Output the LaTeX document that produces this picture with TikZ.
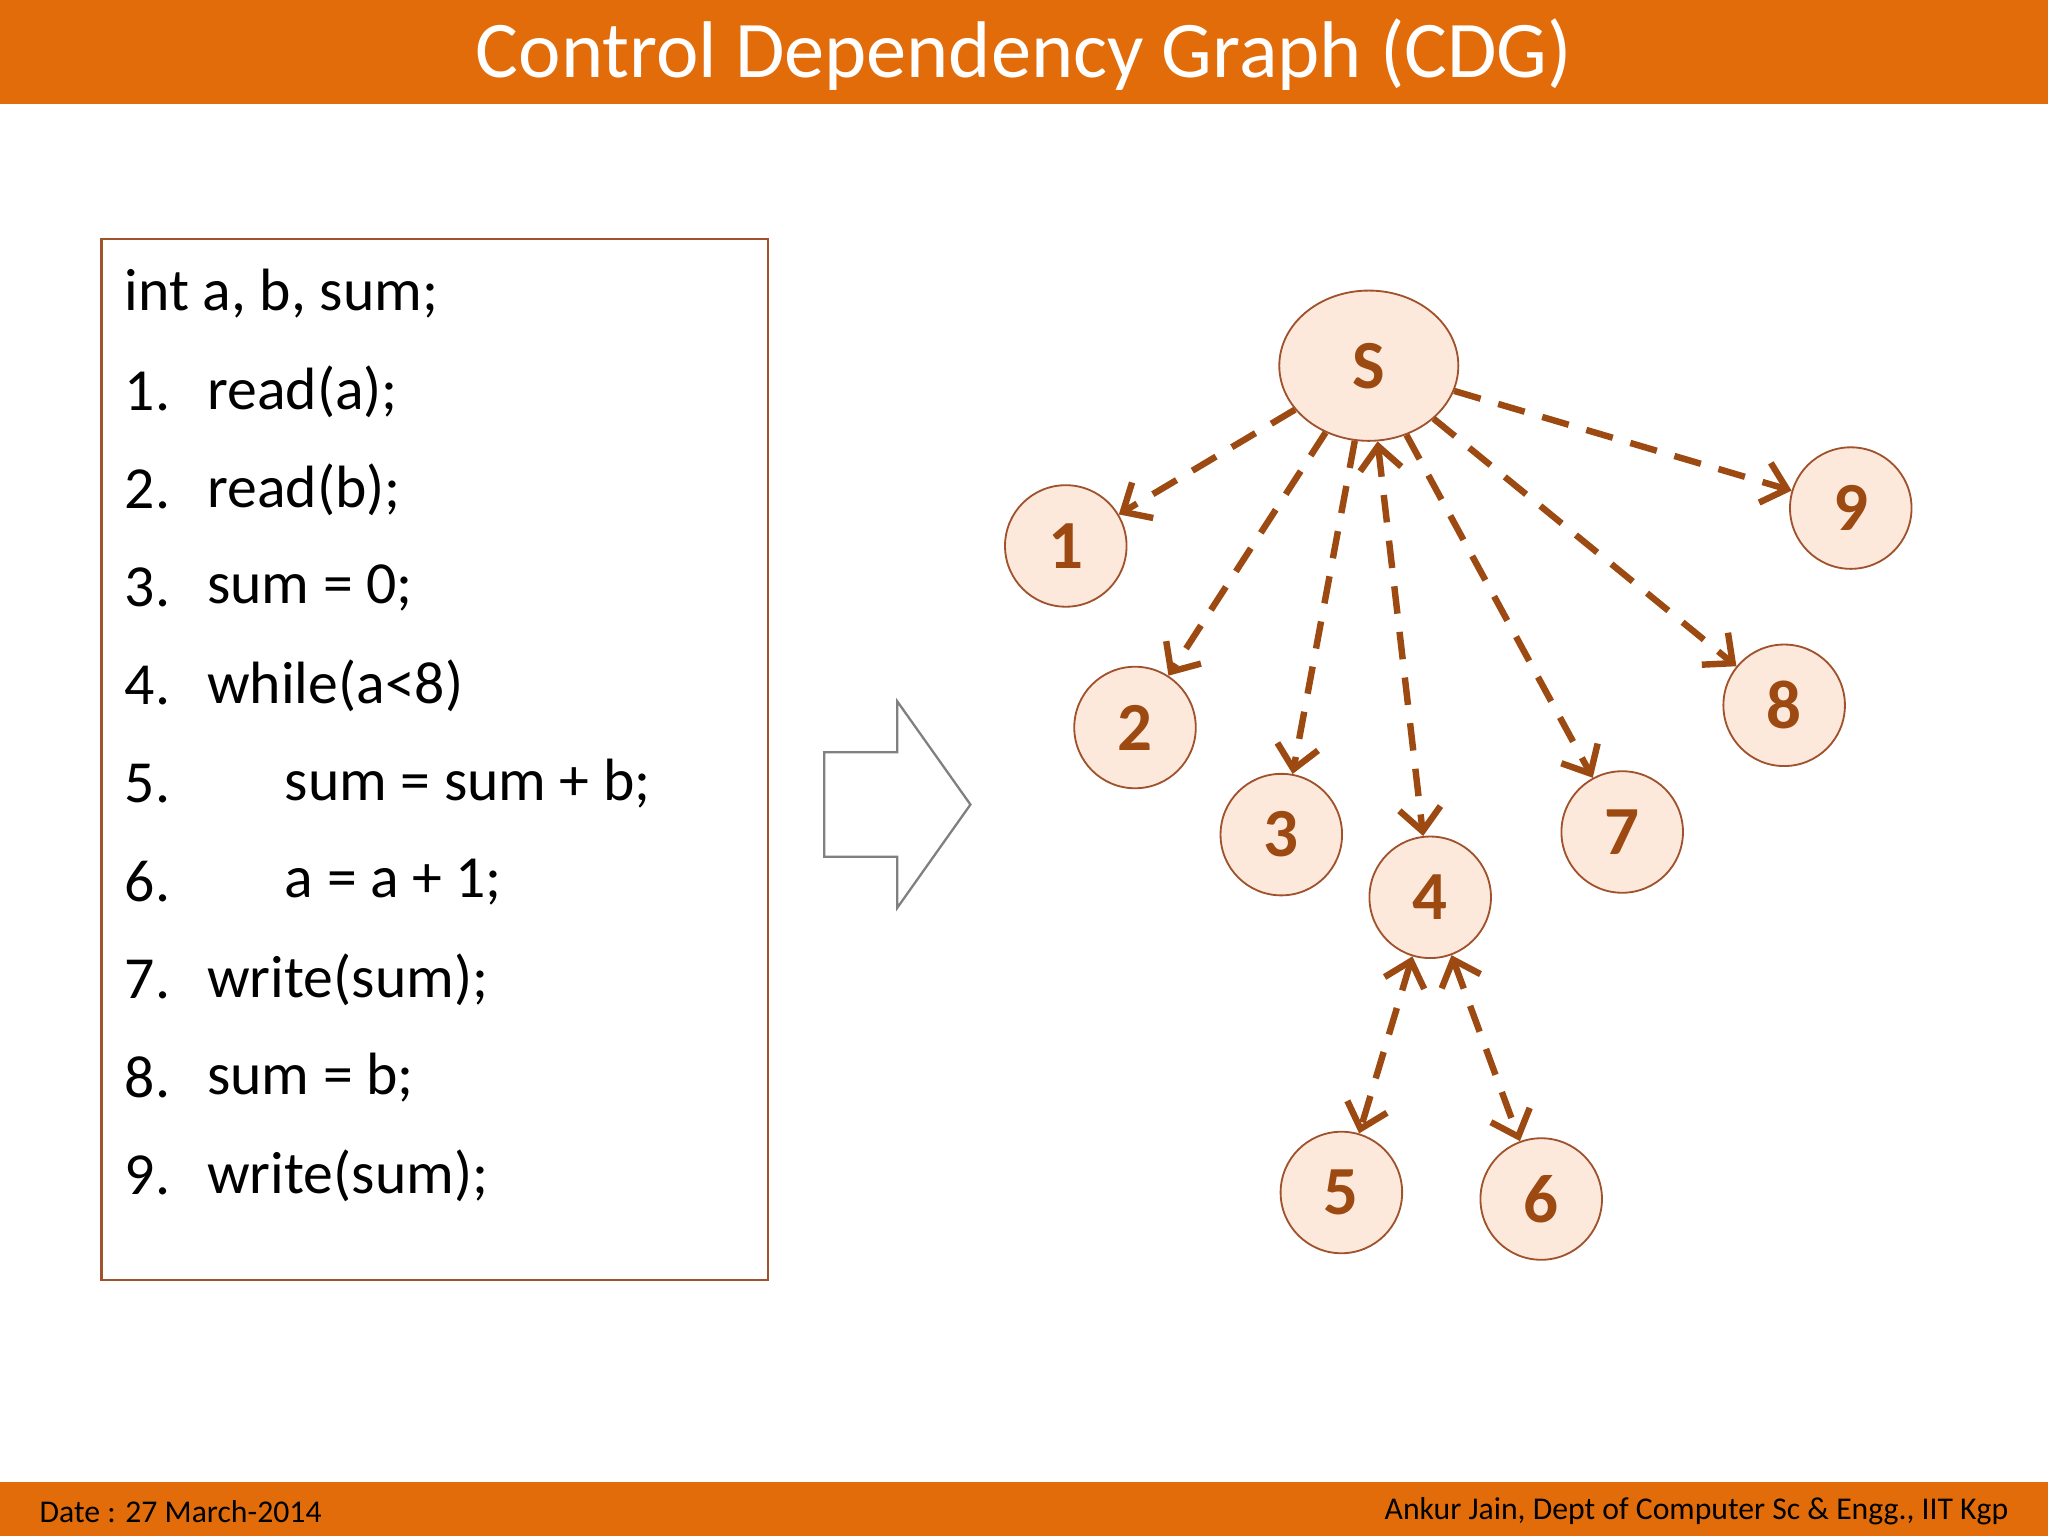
\documentclass[tikz,border=0pt]{standalone}
\usepackage{fontspec}
\setmainfont{Carlito}
\usetikzlibrary{arrows.meta,shapes.geometric}
\definecolor{orng}{HTML}{E36C0A}
\definecolor{brn}{HTML}{9C4A12}
\definecolor{pch}{HTML}{FDE9DC}
\definecolor{bord}{HTML}{A0522D}
\tikzset{
 cn/.style={circle,draw=bord,fill=pch,minimum size=0.93cm,inner sep=0pt,font=\bfseries\fontsize{15}{15}\selectfont,text=brn},
 ed/.style={draw=brn,dashed,line width=1.4pt,dash pattern=on 6pt off 4pt,-{Straight Barb[length=5pt,width=9pt]}},
 bd/.style={ed,{Straight Barb[length=5pt,width=9pt]}-{Straight Barb[length=5pt,width=9pt]}},
 code/.style={anchor=west,font=\fontsize{13}{13}\selectfont,inner sep=0pt}
}
\begin{document}
\begin{tikzpicture}[x=0.01cm,y=-0.01cm]
\useasboundingbox (0,0) rectangle (1568,1176);
\fill[orng] (0,0) rectangle (1568,80);
\fill[orng] (0,1135) rectangle (1568,1176);
\node[text=white,font=\fontsize{17.5}{18}\selectfont] (title) at (784,42) {Control Dependency Graph (CDG)};
\node[anchor=west,font=\fontsize{6.9}{7}\selectfont] (date) at (18,1157) {Date : 27 March-2014};
\node[anchor=east,font=\fontsize{6.9}{7}\selectfont] (auth) at (1550,1157) {Ankur Jain, Dept of Computer Sc \& Engg., IIT Kgp};
\draw[draw=bord,line width=0.6pt] (78,183) rectangle (588,980);
\node[code] (c0) at (95,225) {int a, b, sum;};
\foreach \n/\t [count=\i] in {1/read(a);,2/read(b);,3/sum = 0;,4/while(a<8),5/\hspace{1.3em}sum = sum + b;,6/\hspace{1.3em}a = a + 1;,7/write(sum);,8/sum = b;,9/write(sum);}{
  \node[code] (n\i) at (95,225+75*\i) {\n.};
  \node[code] (t\i) at (158,225+75*\i) {\t};
}
\draw[gray,line width=0.5pt] (631,576) -- (687,576) -- (687,537) -- (743,616) -- (687,695) -- (687,656) -- (631,656) -- cycle;
\node[ellipse,draw=bord,fill=pch,minimum width=1.37cm,minimum height=1.15cm,inner sep=0pt,font=\bfseries\fontsize{15}{15}\selectfont,text=brn] (S) at (1048,280) {S};
\node[cn] (a1) at (816,418) {1};
\node[cn] (a2) at (869,557) {2};
\node[cn] (a3) at (981,639) {3};
\node[cn] (a4) at (1095,687) {4};
\node[cn] (a5) at (1027,913) {5};
\node[cn] (a6) at (1180,918) {6};
\node[cn] (a7) at (1242,637) {7};
\node[cn] (a8) at (1366,540) {8};
\node[cn] (a9) at (1417,389) {9};
\draw[ed] (S) -- (a1);
\draw[ed] (S) -- (a2);
\draw[ed] (S) -- (a3);
\draw[bd] (S) -- (a4);
\draw[ed] (S) -- (a7);
\draw[ed] (S) -- (a8);
\draw[ed] (S) -- (a9);
\draw[bd] (a4) -- (a5);
\draw[bd] (a4) -- (a6);
\end{tikzpicture}
\end{document}
